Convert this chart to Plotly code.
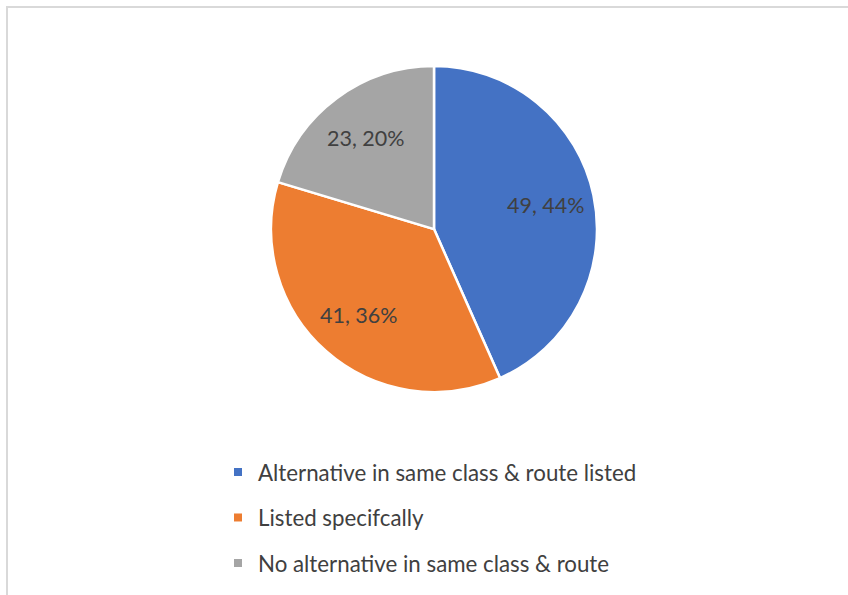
import math
import plotly.graph_objects as go

categories = [
    "Alternative in same class & route listed",
    "Listed specifcally",
    "No alternative in same class & route",
]
counts = [49, 41, 23]
percent_labels = ["44%", "36%", "20%"]
colors = ["#4472C4", "#ED7D31", "#A5A5A5"]

FONT = "Lato, Open Sans, sans-serif"
TEXT_COLOR = "#404040"

W, H = 848, 595
# pie placement (paper fractions)
dom_x = [0.3196, 0.704]
dom_y = [0.341, 0.889]
cx = sum(dom_x) / 2
cy = sum(dom_y) / 2
radius_px = (dom_x[1] - dom_x[0]) * W / 2

fig = go.Figure()

fig.add_trace(go.Pie(
    labels=categories,
    values=counts,
    textinfo="none",
    marker=dict(colors=colors, line=dict(color="white", width=2.5)),
    sort=False,
    direction="clockwise",
    rotation=0,
    showlegend=False,
    hoverinfo="label+value",
    domain=dict(x=dom_x, y=dom_y),
))

# data labels placed at each slice's mid-angle, inside the slice
annotations = []
total = sum(counts)
start = 0.0
for v, pct in zip(counts, percent_labels):
    span = 360.0 * v / total
    mid = math.radians(start + span / 2)
    start += span
    r = 0.70 * radius_px
    annotations.append(dict(
        x=cx + r * math.sin(mid) / W,
        y=cy + r * math.cos(mid) / H,
        xref="paper", yref="paper",
        text=f"{v}, {pct}", showarrow=False,
        font=dict(family=FONT, size=21.5, color=TEXT_COLOR),
        xanchor="center", yanchor="middle",
    ))

# legend entries with small square swatches, one group per category
for name, col in zip(categories, colors):
    fig.add_trace(go.Scatter(
        x=[None], y=[None], mode="markers", name=name,
        legendgroup=name,
        marker=dict(symbol="square", size=8, color=col),
        showlegend=True,
    ))

fig.update_layout(
    width=W, height=H,
    margin=dict(l=0, r=0, t=0, b=0),
    paper_bgcolor="white", plot_bgcolor="white",
    xaxis=dict(visible=False), yaxis=dict(visible=False),
    annotations=annotations,
    legend=dict(
        x=218 / W, y=1 - 451 / H, xanchor="left", yanchor="top",
        orientation="v", tracegroupgap=13.5,
        font=dict(family=FONT, size=22.3, color=TEXT_COLOR),
        itemwidth=30, bgcolor="rgba(0,0,0,0)",
    ),
    shapes=[dict(
        type="rect", xref="paper", yref="paper",
        x0=7 / W, x1=1.05, y0=-0.05, y1=1 - 7 / H,
        line=dict(color="#D9D9D9", width=2), layer="below",
    )],
)

fig.write_html("out.html")
